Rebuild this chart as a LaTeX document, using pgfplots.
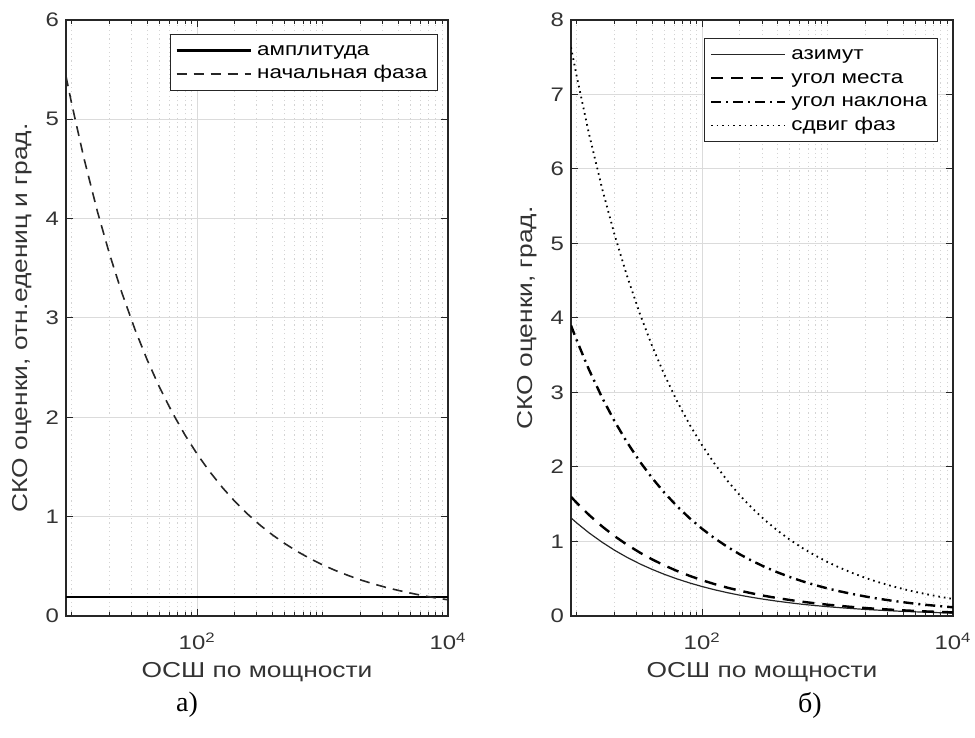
\documentclass[border=0pt]{standalone}
\usepackage{fontspec}
\setmainfont[FakeStretch=1.22]{Liberation Sans}
\newfontfamily\capfont{Liberation Serif}
\usepackage{pgfplots}
\usepackage{pgfplotstable}
\pgfplotsset{compat=1.18}

% x = ОСШ, then the curves of both panels
\pgfplotstableread{
x     amp   phase  az     el     tilt   shift
9     0.19  5.433  1.317  1.600  3.900  7.633
10    0.19  5.155  1.249  1.518  3.700  7.242
12.5  0.19  4.610  1.117  1.358  3.309  6.477
16    0.19  4.075  0.988  1.200  2.925  5.725
20    0.19  3.645  0.883  1.073  2.616  5.121
25    0.19  3.260  0.790  0.960  2.340  4.580
32    0.19  2.881  0.698  0.849  2.068  4.048
40    0.19  2.577  0.625  0.759  1.850  3.621
50    0.19  2.305  0.559  0.679  1.655  3.239
63    0.19  2.054  0.498  0.605  1.474  2.885
80    0.19  1.822  0.442  0.537  1.308  2.560
100   0.19  1.630  0.395  0.480  1.170  2.290
125   0.19  1.458  0.353  0.429  1.046  2.048
160   0.19  1.289  0.312  0.379  0.925  1.810
200   0.19  1.153  0.279  0.339  0.827  1.619
250   0.19  1.031  0.250  0.304  0.740  1.448
320   0.19  0.911  0.221  0.268  0.654  1.280
400   0.19  0.815  0.198  0.240  0.585  1.145
500   0.19  0.729  0.177  0.215  0.523  1.024
630   0.19  0.649  0.157  0.191  0.466  0.912
800   0.19  0.576  0.140  0.170  0.414  0.810
1000  0.19  0.515  0.125  0.152  0.370  0.724
1250  0.19  0.461  0.112  0.136  0.331  0.648
1600  0.19  0.408  0.099  0.120  0.293  0.573
2000  0.19  0.364  0.088  0.107  0.262  0.512
2500  0.19  0.326  0.079  0.096  0.234  0.458
3200  0.19  0.288  0.070  0.085  0.207  0.405
4000  0.19  0.258  0.062  0.076  0.185  0.362
5000  0.19  0.231  0.056  0.068  0.165  0.324
6300  0.19  0.205  0.050  0.060  0.147  0.289
8000  0.19  0.182  0.044  0.054  0.131  0.256
10000 0.19  0.163  0.040  0.048  0.117  0.229
}\snr

\pgfplotsset{
  every axis/.append style={
    scale only axis, width=191pt, height=298pt,
    xmin=9, xmax=10000, ymin=0,
    xtick={100,10000},
    xticklabels={10\textsuperscript{2},10\textsuperscript{4}},
    minor xtick={10,20,30,40,50,60,70,80,90,200,300,400,500,600,700,800,900,1000,2000,3000,4000,5000,6000,7000,8000,9000},
    xtick pos=both, ytick pos=both, tick align=inside,
    major tick length=3.5pt, minor tick length=2pt,
    grid=both,
    major grid style={black!14, line width=0.5pt},
    minor grid style={black!17, line width=0.5pt, dash pattern=on 0.6pt off 1.6pt},
    axis line style={black!85, line width=0.8pt},
    tick style={black!85, line width=0.5pt},
    /pgf/number format/assume math mode=true,
    every tick label/.append style={font=\fontsize{9.8}{12}\selectfont, text=black!80},
    xticklabel style={yshift=-5pt},
    every axis label/.append style={font=\fontsize{10.8}{12}\selectfont, text=black!80},
    xlabel={ОСШ по мощности},
    xlabel style={yshift=0.5pt},
    legend cell align=left,
    legend style={draw=black!85, line width=0.6pt, fill=white,
      font=\fontsize{9.2}{11}\selectfont, inner sep=2.5pt, row sep=0.6pt,
      nodes={inner xsep=2.6pt, inner ysep=1.2pt, text height=6.8pt, text depth=2pt}},
  },
}

\begin{document}
\begin{tikzpicture}
\useasboundingbox (-33pt,-61pt) rectangle (454.5pt,308pt);

\begin{semilogxaxis}[name=left, at={(0pt,0pt)}, anchor=south west,
    ymax=6, ytick={0,1,2,3,4,5,6},
    ylabel={СКО оценки, отн.едениц и град.},
    legend image code/.code={\draw[#1] (0cm,0cm) -- (1.3cm,0cm);},
    legend style={at={(rel axis cs:0.974,0.977)}, anchor=north east}]
  \addplot[black, line width=1.3pt] table[x=x, y=amp] {\snr};
  \addlegendentry{амплитуда}
  \addplot[black!85, line width=0.8pt, dash pattern=on 5pt off 3.5pt] table[x=x, y=phase] {\snr};
  \addlegendentry{начальная фаза}
\end{semilogxaxis}

\begin{semilogxaxis}[name=right, at={(252.5pt,0pt)}, anchor=south west,
    ymax=8, ytick={0,1,2,3,4,5,6,7,8},
    ylabel={СКО оценки, град.},
    legend image code/.code={\draw[#1] (0cm,0cm) -- (1.3cm,0cm);},
    legend style={at={(rel axis cs:0.961,0.970)}, anchor=north east}]
  \addplot[black!85, line width=0.6pt] table[x=x, y=az] {\snr};
  \addlegendentry{азимут}
  \addplot[black, line width=1.2pt, dash pattern=on 6pt off 4pt] table[x=x, y=el] {\snr};
  \addlegendentry{угол места}
  \addplot[black, line width=1.2pt, dash pattern=on 5pt off 2.5pt on 1pt off 2.5pt] table[x=x, y=tilt] {\snr};
  \addlegendentry{угол наклона}
  \addplot[black, line width=0.9pt, dash pattern=on 0.8pt off 2pt] table[x=x, y=shift] {\snr};
  \addlegendentry{сдвиг фаз}
\end{semilogxaxis}

\node[font=\capfont\fontsize{14}{16}\selectfont] at (60.5pt,-44.5pt) {а)};
\node[font=\capfont\fontsize{14}{16}\selectfont] at (372pt,-44.5pt) {б)};
\end{tikzpicture}
\end{document}
